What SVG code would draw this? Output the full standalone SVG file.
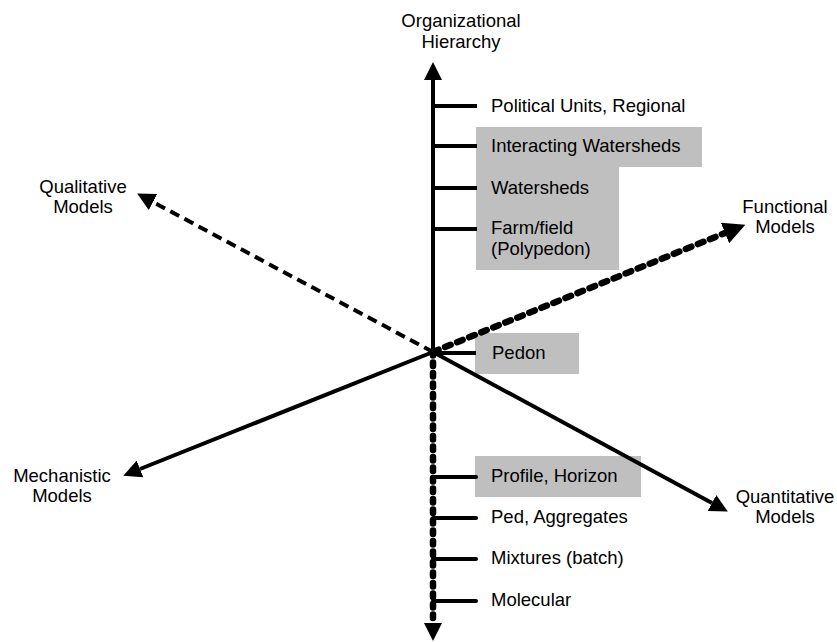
<svg xmlns="http://www.w3.org/2000/svg" width="837" height="642" viewBox="0 0 837 642">
<style>
text{font-family:"Liberation Sans",Arial,Helvetica,sans-serif;font-size:18.5px;fill:#000}
.mid{text-anchor:middle}
.box{fill:#bfbfbf}
.tick{stroke:#000;stroke-width:4;fill:none}
.ax{stroke:#000;fill:none}
</style>
<defs>
<marker id="ah" markerUnits="userSpaceOnUse" markerWidth="18" markerHeight="18" refX="0" refY="9" orient="auto" viewBox="0 0 18 18">
<path d="M0,0 L18,9 L0,18 z" fill="#000"/>
</marker>
<marker id="ahL" markerUnits="userSpaceOnUse" markerWidth="22" markerHeight="22" refX="0" refY="11" orient="auto" viewBox="0 0 22 22">
<path d="M0,0 L22,11 L0,22 z" fill="#000"/>
</marker>
</defs>

<g id="boxes">
<rect class="box" x="476" y="127" width="226" height="40"/>
<rect class="box" x="476" y="166" width="143" height="104"/>
<rect class="box" x="475" y="333" width="104" height="41"/>
<rect class="box" x="475" y="456" width="166" height="41"/>
</g>

<g id="connectors">
<line class="ax" x1="433" y1="352" x2="433" y2="80" stroke-width="4" marker-end="url(#ah)"/>
<line class="ax" x1="433" y1="352" x2="433" y2="623" stroke-width="6.5" stroke-linecap="round" stroke-dasharray="3.5 7" marker-end="url(#ah)"/>
<line class="ax" x1="433" y1="352" x2="153" y2="202" stroke-width="4" stroke-dasharray="10 6" marker-end="url(#ah)"/>
<line class="ax" x1="433" y1="352" x2="725" y2="233" stroke-width="6.5" stroke-linecap="round" stroke-dasharray="6 7" marker-end="url(#ahL)"/>
<line class="ax" x1="433" y1="352" x2="140" y2="469" stroke-width="4" marker-end="url(#ah)"/>
<line class="ax" x1="433" y1="352" x2="712" y2="503" stroke-width="4" marker-end="url(#ah)"/>
<line class="tick" x1="433" y1="106" x2="477" y2="106"/>
<line class="tick" x1="433" y1="146" x2="477" y2="146"/>
<line class="tick" x1="433" y1="188" x2="477" y2="188" stroke-width="5"/>
<line class="tick" x1="433" y1="229" x2="477" y2="229" stroke-width="2"/>
<line class="tick" x1="433" y1="353" x2="476" y2="353"/>
<line class="tick" x1="433" y1="477" x2="476" y2="477" stroke-linecap="round"/>
<line class="tick" x1="433" y1="518" x2="476" y2="518" stroke-linecap="round"/>
<line class="tick" x1="433" y1="559" x2="476" y2="559" stroke-linecap="round"/>
<line class="tick" x1="433" y1="601" x2="476" y2="601" stroke-linecap="round"/>
</g>

<g id="axis-org"><text class="mid" x="461" y="27">Organizational</text><text class="mid" x="461" y="48">Hierarchy</text></g>
<g id="axis-qual"><text class="mid" x="83" y="193">Qualitative</text><text class="mid" x="83" y="213">Models</text></g>
<g id="axis-func"><text class="mid" x="785" y="213">Functional</text><text class="mid" x="785" y="233">Models</text></g>
<g id="axis-mech"><text class="mid" x="62" y="482">Mechanistic</text><text class="mid" x="62" y="502">Models</text></g>
<g id="axis-quant"><text class="mid" x="785" y="503">Quantitative</text><text class="mid" x="785" y="523">Models</text></g>

<g id="n-political"><text x="491" y="112">Political Units, Regional</text></g>
<g id="n-interacting"><text x="491" y="152">Interacting Watersheds</text></g>
<g id="n-watersheds"><text x="491" y="194">Watersheds</text></g>
<g id="n-farm"><text x="491" y="234">Farm/field</text><text x="491" y="255">(Polypedon)</text></g>
<g id="n-pedon"><text x="492" y="359">Pedon</text></g>
<g id="n-profile"><text x="491" y="482">Profile, Horizon</text></g>
<g id="n-ped"><text x="491" y="523">Ped, Aggregates</text></g>
<g id="n-mixtures"><text x="491" y="564">Mixtures (batch)</text></g>
<g id="n-molecular"><text x="491" y="606">Molecular</text></g>
</svg>
